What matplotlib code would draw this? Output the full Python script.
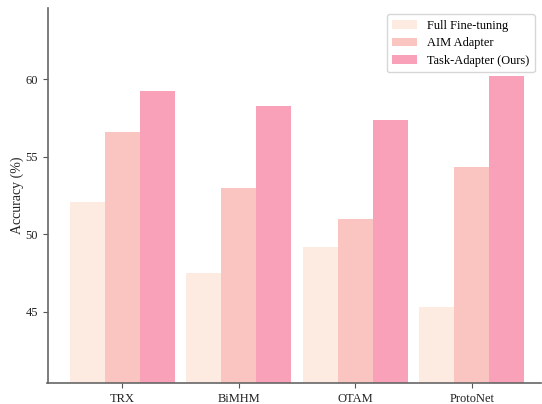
import matplotlib
matplotlib.use("Agg")
import matplotlib.pyplot as plt
import numpy as np

categories = ["TRX", "BiMHM", "OTAM", "ProtoNet"]
full_ft = [52.1, 47.5, 49.2, 45.3]
aim_adapter = [56.6, 53.0, 51.0, 54.35]
task_adapter = [59.25, 58.3, 57.4, 60.2]
series_names = ["Full Fine-tuning", "AIM Adapter", "Task-Adapter (Ours)"]
colors = ["#fdeae1", "#fac4c0", "#f9a1b8"]

plt.rcParams['font.family'] = ['Liberation Serif', 'DejaVu Serif']

fig = plt.figure(figsize=(5.42, 4.04), dpi=100)
ax = fig.add_axes([47.5/542, (404-383)/404, (541-47.5)/542, (383-8)/404])

x = np.arange(len(categories))
w = 0.3
for i, (vals, name, c) in enumerate(zip([full_ft, aim_adapter, task_adapter], series_names, colors)):
    ax.bar(x + (i - 1) * w, vals, width=w, color=c, label=name)

ax.set_xticks(x)
ax.set_xticklabels(categories, fontsize=9)
ax.set_yticks([45, 50, 55, 60])
ax.tick_params(axis='y', labelsize=9, labelcolor='#222222', color='#555555')
ax.tick_params(axis='x', labelcolor='#222222', color='#555555')
ax.set_ylim(40.4, 64.6)
ax.set_xlim(-0.642, 3.595)
ax.set_ylabel("Accuracy (%)", fontsize=10, color='#222222', labelpad=1)
for s in ['top', 'right']:
    ax.spines[s].set_visible(False)
for s in ['left', 'bottom']:
    ax.spines[s].set_color('#666666')
    ax.spines[s].set_linewidth(1.2)

leg = ax.legend(loc='upper right', fontsize=8.9, frameon=True, fancybox=True,
                labelspacing=0.45, borderaxespad=0.5, borderpad=0.45)
leg.get_frame().set_edgecolor('#cccccc')

fig.savefig("out.png", dpi=100)
